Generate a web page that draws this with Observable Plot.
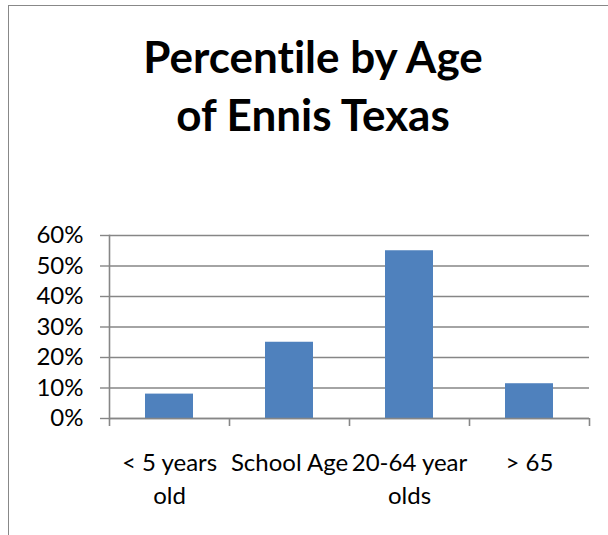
<!DOCTYPE html>
<html>
<head>
<meta charset="utf-8">
<script src="https://cdn.jsdelivr.net/npm/d3@7"></script>
<script src="https://cdn.jsdelivr.net/npm/@observablehq/plot@0.6"></script>
<style>
  html, body { margin: 0; padding: 0; background: #fff; overflow: hidden; }
  #chart { position: relative; width: 608px; height: 535px; font-family: Lato, "Open Sans", sans-serif;
           font-variant-ligatures: none; }
  #border { position: absolute; left: 7.8px; top: 4.5px; width: 700px; height: 600px;
            border-top: 1.6px solid #888; border-left: 1.6px solid #888; box-sizing: border-box; }
  #title { position: absolute; left: 0; top: 27px; width: 626px; text-align: center;
           font-weight: 700; font-size: 44px; line-height: 58px; color: #000; font-variant-ligatures: none; }
  #plot { position: absolute; left: 0; top: 150px; }
  #plot svg text { font-variant-ligatures: none; }
</style>
</head>
<body>
<div id="chart">
  <div id="border"></div>
  <div id="title">Percentile by Age<br>of Ennis Texas</div>
  <div id="plot"></div>
</div>
<script>
// Age groups in Ennis, Texas, and the share of the population in each
const categories = ["< 5 years\nold", "School Age", "20-64 year\nolds", "> 65"];
const shares = [0.08, 0.25, 0.55, 0.114];
const yTicks = [0, 0.1, 0.2, 0.3, 0.4, 0.5, 0.6];

const data = categories.map((c, i) => ({group: c, share: shares[i]}));
const axisGray = "#868686";

const chart = Plot.plot({
  width: 608,
  height: 385,
  marginLeft: 109,
  marginRight: 19,
  marginTop: 85,
  marginBottom: 117,
  style: {fontFamily: "Lato, 'Open Sans', sans-serif", fontSize: "24px", color: "#000", background: "transparent", overflow: "visible"},
  x: {domain: categories, padding: 0, axis: null},
  y: {domain: [0, 0.6], axis: null},
  marks: [
    Plot.gridY(yTicks, {stroke: axisGray, strokeOpacity: 1, strokeWidth: 1.4}),
    Plot.axisY(yTicks, {tickFormat: d3.format(".0%"), tickSize: 9, tickPadding: 17,
                        stroke: axisGray, strokeWidth: 1.4, fill: "#000", fontSize: 24, label: null}),
    Plot.barY(data, {x: "group", y: "share", fill: "#4F81BD", insetLeft: 36, insetRight: 36}),
    Plot.ruleY([0], {stroke: axisGray, strokeWidth: 1.6}),
    Plot.frame({anchor: "left", stroke: axisGray, strokeWidth: 1.6}),
    // group labels centred under each bar
    Plot.axisX({tickSize: 0, tickPadding: 29, lineHeight: 1.375, fontSize: 24, fill: "#000", label: null}),
    // category separators on the edges of each band
    Plot.axisX(categories, {dx: -60, tickSize: 8, text: null, stroke: axisGray, strokeWidth: 1.6, label: null}),
    Plot.axisX([categories[categories.length - 1]], {dx: 60, tickSize: 8, text: null, stroke: axisGray, strokeWidth: 1.6, label: null})
  ]
});
document.getElementById("plot").appendChild(chart);
</script>
</body>
</html>
